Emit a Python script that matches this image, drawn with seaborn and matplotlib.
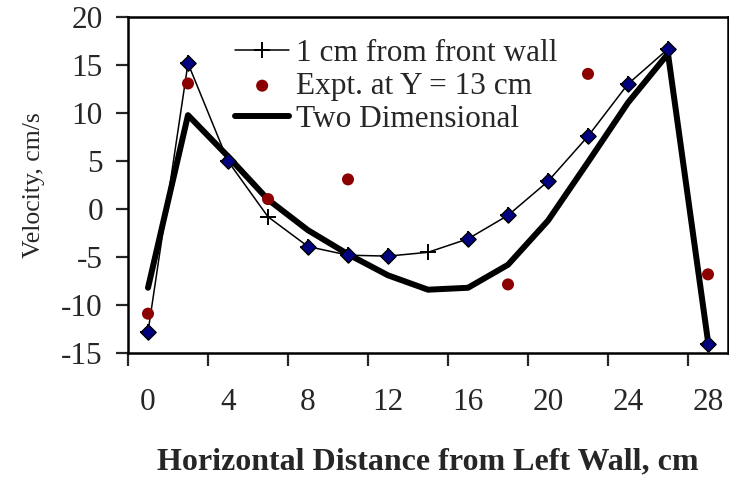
import numpy as np
import pandas as pd
import matplotlib
matplotlib.use("Agg")
import matplotlib.pyplot as plt
import seaborn as sns

# Horizontal stations across the channel (cm from the left wall)
x_cm = [0, 2, 4, 6, 8, 10, 12, 14, 16, 18, 20, 22, 24, 26, 28]

# Velocity 1 cm from the front wall
front_wall = [-12.8, 15.2, 5.0, -0.8, -3.9, -4.8, -4.9, -4.5, -3.1, -0.65,
              2.9, 7.6, 13.05, 16.7, -14.1]
# Stations where the front-wall profile is marked with diamonds
diamond_x = [0, 2, 4, 8, 10, 12, 16, 18, 20, 22, 24, 26, 28]

# Experimental values at Y = 13 cm
expt_x = [0, 2, 6, 10, 18, 22, 28]
expt_v = [-10.9, 13.1, 1.05, 3.1, -7.85, 14.1, -6.8]

# Two-dimensional model
two_dim = [-8.2, 9.8, 5.5, 1.0, -2.2, -4.7, -6.9, -8.4, -8.2, -5.8,
           -1.2, 4.9, 11.1, 16.2, -13.8]

y_ticks = [-15, -10, -5, 0, 5, 10, 15, 20]
x_labels = ["0", "4", "8", "12", "16", "20", "24", "28"]

sns.set_style("ticks")
plt.rcParams["font.family"] = ["Liberation Serif", "DejaVu Serif"]

pos = {v: i for i, v in enumerate(x_cm)}
df = pd.DataFrame({"pos": [pos[v] for v in x_cm],
                   "front": front_wall, "model": two_dim})
df_dia = df[df["pos"].isin([pos[v] for v in diamond_x])]
df_exp = pd.DataFrame({"pos": [pos[v] for v in expt_x], "v": expt_v})

fig = plt.figure(figsize=(7.29, 4.79), dpi=100)
ax = fig.add_axes([128 / 729, 1 - 353 / 479, 600 / 729, (353 - 17.3) / 479])

sns.lineplot(data=df, x="pos", y="front", ax=ax, color="black", lw=1.1,
             marker="+", markersize=12, markeredgewidth=1.4,
             markeredgecolor="black",
             label="1 cm from front wall", zorder=3)
sns.scatterplot(data=df_exp, x="pos", y="v", ax=ax, color="#8B0000",
                s=75, edgecolor="none", label="Expt. at Y = 13 cm", zorder=4)
sns.lineplot(data=df, x="pos", y="model", ax=ax, color="black", lw=4.3,
             label="Two Dimensional", zorder=2)
sns.scatterplot(data=df_dia, x="pos", y="front", ax=ax, marker="D",
                color="#000080", edgecolor="black", linewidth=1.0, s=60,
                zorder=5, legend=False)

ax.set_xlim(-0.5, len(x_cm) - 0.5)
ax.set_ylim(-15, 20)
ax.set_yticks(y_ticks)
ax.set_yticklabels([str(t) for t in y_ticks])

# tick marks on category boundaries, labels on every other category
ax.set_xticks(np.arange(-0.5, len(x_cm) - 1, 2))
ax.set_xticklabels([])
ax.set_xticks(np.arange(0, len(x_cm), 2), minor=True)
ax.set_xticklabels(x_labels, minor=True)
ax.tick_params(axis="x", which="major", length=9, width=1.6, direction="out")
ax.tick_params(axis="x", which="minor", length=0, pad=25, labelsize=22.5)
ax.tick_params(axis="y", length=9, width=1.6, direction="out", pad=9,
               labelsize=22.5)

for s in ax.spines.values():
    s.set_linewidth(1.8)
    s.set_color("black")

ax.set_xlabel("Horizontal Distance from Left Wall, cm", fontsize=23,
              fontweight="bold", labelpad=22)
ax.set_ylabel("Velocity, cm/s", fontsize=18.5, labelpad=12)

leg = ax.legend(loc="upper left", bbox_to_anchor=(0.178, 0.935), frameon=False,
                fontsize=22.5, handlelength=1.75, handletextpad=0.2,
                labelspacing=0.12, borderpad=0, borderaxespad=0)

fig.savefig("out.png", dpi=100)
